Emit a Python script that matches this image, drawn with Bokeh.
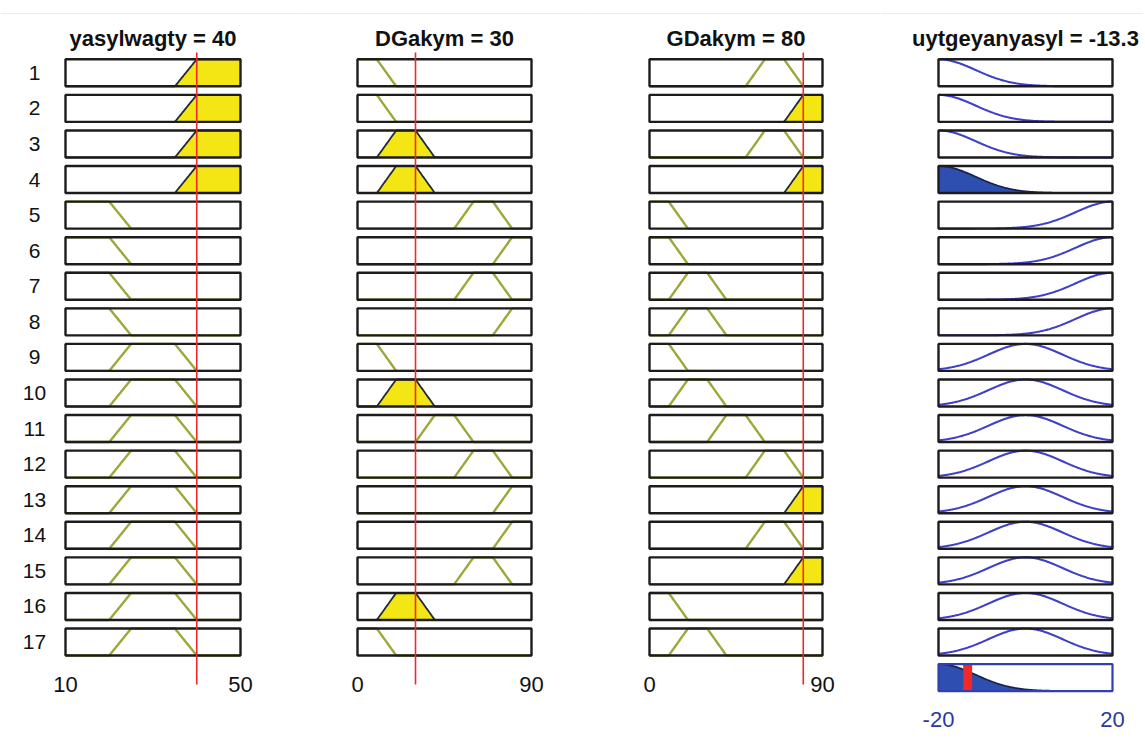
import numpy as np
from bokeh.plotting import figure
from bokeh.layouts import row
from bokeh.models import Range1d, Span
from bokeh.core.properties import value
from bokeh.embed import file_html
from bokeh.resources import INLINE

# ---------------- data ----------------
input_names = ["yasylwagty", "DGakym", "GDakym"]
input_values = [40, 30, 80]
input_ranges = [(10, 50), (0, 90), (0, 90)]
output_name = "uytgeyanyasyl"
output_value = -13.3
output_range = (-20, 20)

# trapezoid membership functions [a, b, c, d]
mf_in1 = {"low": [10, 10, 20, 25], "mid": [20, 25, 35, 40], "high": [35, 40, 50, 50]}
mf_in23 = {"VL": [0, 0, 10, 20], "L": [10, 20, 30, 40], "M": [30, 40, 50, 60],
           "H": [50, 60, 70, 80], "VH": [70, 80, 90, 90]}
# gaussian output functions [sigma, center]
mf_out = {"neg": [8.5, -20], "zero": [8.5, 0], "pos": [8.5, 20]}

rule_in1 = ["high"] * 4 + ["low"] * 4 + ["mid"] * 9
rule_in2 = ["VL", "VL", "L", "L", "H", "VH", "H", "VH", "VL", "L", "M", "H", "VH", "VH", "H", "L", "VL"]
rule_in3 = ["H", "VH", "H", "VH", "VL", "VL", "L", "L", "VL", "L", "M", "H", "VH", "H", "VH", "VL", "L"]
rule_out = ["neg"] * 4 + ["pos"] * 4 + ["zero"] * 9

# ---------------- layout / style ----------------
FIG_LEFT = [0, 300, 590, 880]
FIG_RIGHT = [300, 590, 880, 1143]
BOX_LEFT = [65, 357, 649, 938]
BOX_RIGHT = [240, 531, 822, 1112]
TOP, BOTTOM = 0, 735
ROW1_PX = 72.3
PITCH = 35.575
BOX_H = 27.0 / PITCH
TITLE_PX = 38.0

FONT = value("Liberation Sans")
BOX_COL = "#1c1c1c"
OLIVE = "#9ea83a"
YELLOW = "#f4e614"
BLUE_LINE = "#3f3fc8"
BLUE_FILL = "#2f4fb0"
RED = "#f02828"
LABEL_BLUE = "#2b3a9e"


def ry(px):
    return 1 + (px - ROW1_PX) / PITCH


def trapmf(x, p):
    a, b, c, d = p
    x = np.asarray(x, dtype=float)
    up = np.ones_like(x) if b == a else np.clip((x - a) / (b - a), 0, 1)
    down = np.ones_like(x) if d == c else np.clip((d - x) / (d - c), 0, 1)
    y = np.minimum(up, down)
    y[(x < a) | (x > d)] = 0
    return y


def gaussmf(x, p):
    sig, c = p
    x = np.asarray(x, dtype=float)
    return np.exp(-((x - c) ** 2) / (2.0 * sig ** 2))


def make_fig(i, xmin, xmax):
    L, R = BOX_LEFT[i], BOX_RIGHT[i]
    s = (xmax - xmin) / (R - L)
    xr = Range1d(xmin + (FIG_LEFT[i] - L) * s, xmin + (FIG_RIGHT[i] - L) * s)
    yr = Range1d(ry(BOTTOM), ry(TOP))
    p = figure(width=FIG_RIGHT[i] - FIG_LEFT[i], height=BOTTOM - TOP,
               x_range=xr, y_range=yr, output_backend="svg", toolbar_location=None,
               min_border=0, x_axis_location=None, y_axis_location=None)
    p.grid.visible = False
    p.outline_line_color = None
    p.background_fill_color = "white"
    p.border_fill_color = "white"
    p.add_layout(Span(location=ry(13), dimension="width", line_color="#ebebeb", line_width=1))
    return p, s


def px2x(i, px, xmin, s):
    return xmin + (px - BOX_LEFT[i]) * s


nrules = len(rule_out)
rows = np.arange(1, nrules + 1)

# firing strengths
deg = []
input_mfs = [mf_in1, mf_in23, mf_in23]
input_rules = [rule_in1, rule_in2, rule_in3]
for k in range(3):
    deg.append([float(trapmf([input_values[k]], input_mfs[k][lab])[0]) for lab in input_rules[k]])
strength = [min(deg[0][r], deg[1][r], deg[2][r]) for r in range(nrules)]

figs = []
for k in range(3):
    xmin, xmax = input_ranges[k]
    p, s = make_fig(k, xmin, xmax)
    xs = np.linspace(xmin, xmax, 201)
    for r in range(nrules):
        yc = rows[r]
        base = yc + BOX_H / 2
        mf = trapmf(xs, input_mfs[k][input_rules[k][r]])
        d = deg[k][r]
        if d > 0:
            clipped = np.minimum(mf, d)
            p.varea(x=xs, y1=np.full_like(xs, base), y2=base - clipped * BOX_H, fill_color=YELLOW)
            p.line(xs, base - clipped * BOX_H, line_color="#1f2a3a", line_width=1.8)
        else:
            p.line(xs, base - mf * BOX_H, line_color=OLIVE, line_width=2.4)
    p.quad(left=[xmin] * nrules, right=[xmax] * nrules, top=rows - BOX_H / 2,
           bottom=rows + BOX_H / 2, fill_color=None, line_color=BOX_COL, line_width=2.4)
    p.segment(x0=[input_values[k]], y0=[ry(52)], x1=[input_values[k]], y1=[ry(684)],
              line_color=RED, line_width=1.6)
    p.text(x=[(xmin + xmax) / 2], y=[ry(TITLE_PX)], text=[f"{input_names[k]} = {input_values[k]}"],
           text_font=FONT, text_font_size="22px", text_font_style="bold",
           text_align="center", text_baseline="middle", text_color="#111111")
    p.text(x=[xmin, xmax], y=[ry(683.5)] * 2, text=[str(xmin), str(xmax)],
           text_font=FONT, text_font_size="22px", text_align="center",
           text_baseline="middle", text_color="#111111")
    if k == 0:
        p.text(x=[px2x(0, 34, xmin, s)] * nrules, y=rows, text=[str(r) for r in rows],
               text_font=FONT, text_font_size="21px", text_align="center",
               text_baseline="middle", text_color="#111111")
    figs.append(p)

# output column
xmin, xmax = output_range
p, s = make_fig(3, xmin, xmax)
xs = np.linspace(xmin, xmax, 201)
agg = np.zeros_like(xs)
for r in range(nrules):
    yc = rows[r]
    base = yc + BOX_H / 2
    mf = gaussmf(xs, mf_out[rule_out[r]])
    w = strength[r]
    if w > 0:
        clipped = np.minimum(mf, w)
        agg = np.maximum(agg, clipped)
        p.varea(x=xs, y1=np.full_like(xs, base), y2=base - clipped * BOX_H, fill_color=BLUE_FILL)
        p.line(xs, base - clipped * BOX_H, line_color="#1a2350", line_width=1.8)
    else:
        p.line(xs, base - mf * BOX_H, line_color=BLUE_LINE, line_width=2.1)
p.quad(left=[xmin] * nrules, right=[xmax] * nrules, top=rows - BOX_H / 2,
       bottom=rows + BOX_H / 2, fill_color=None, line_color=BOX_COL, line_width=2.4)
agg_row = nrules + 1
base = agg_row + BOX_H / 2
p.varea(x=xs, y1=np.full_like(xs, base), y2=base - agg * BOX_H, fill_color=BLUE_FILL)
p.line(xs, base - agg * BOX_H, line_color="#1a2350", line_width=1.8)
p.segment(x0=[output_value], y0=[agg_row - BOX_H / 2], x1=[output_value], y1=[agg_row + BOX_H / 2],
          line_color=RED, line_width=9)
p.quad(left=[xmin], right=[xmax], top=[agg_row - BOX_H / 2], bottom=[agg_row + BOX_H / 2],
       fill_color=None, line_color="#3040b0", line_width=2.2)
p.text(x=[(xmin + xmax) / 2], y=[ry(TITLE_PX)], text=[f"{output_name} = {output_value}"],
       text_font=FONT, text_font_size="22px", text_font_style="bold",
       text_align="center", text_baseline="middle", text_color="#111111")
p.text(x=[xmin, xmax], y=[ry(718.5)] * 2, text=[str(xmin), str(xmax)],
       text_font=FONT, text_font_size="22px", text_align="center",
       text_baseline="middle", text_color=LABEL_BLUE)
figs.append(p)

layout = row(*figs, spacing=0)
open("out.html", "w").write(file_html(layout, INLINE))
